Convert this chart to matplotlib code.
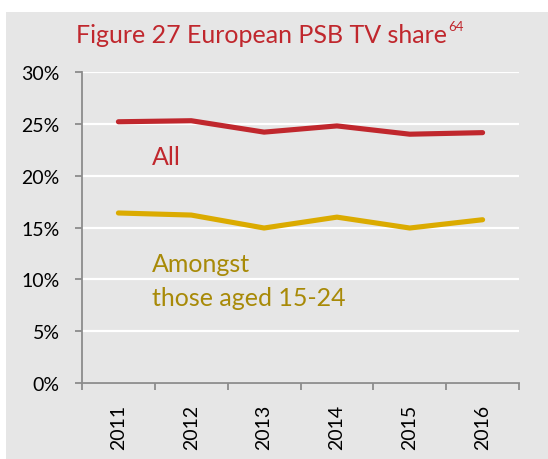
import matplotlib
matplotlib.use('Agg')
import matplotlib.pyplot as plt
from matplotlib.patches import Rectangle
import numpy as np

# chart data
years = ['2011', '2012', '2013', '2014', '2015', '2016']
share_all = [25.2, 25.3, 24.2, 24.8, 24.0, 24.15]
share_young = [16.4, 16.2, 14.95, 16.0, 14.95, 15.75]
yticks = [0, 5, 10, 15, 20, 25, 30]

red = '#c0272d'
gold = '#dbab00'
gold_text = '#a88a08'
bg = '#e6e6e6'
axis_grey = '#8c8c8c'

plt.rcParams['font.family'] = ['Lato', 'DejaVu Sans']

W, H = 548, 460
fig = plt.figure(figsize=(W / 100, H / 100), dpi=100)
fig.patch.set_facecolor('white')
# grey panel behind the chart (white strip at top and left)
panel = Rectangle((6 / W, 0), 1 - 6 / W, (H - 13) / H,
                  transform=fig.transFigure, facecolor=bg,
                  edgecolor='none', zorder=-5)
fig.add_artist(panel)

ax = fig.add_axes([82 / W, (H - 384) / H, (519 - 82) / W, (384 - 73) / H])
ax.set_facecolor(bg)
ax.patch.set_alpha(0)

x = np.arange(len(years))
ax.plot(x, share_all, color=red, lw=3.7, solid_capstyle='round', solid_joinstyle='round', zorder=3)
ax.plot(x, share_young, color=gold, lw=3.7, solid_capstyle='round', solid_joinstyle='round', zorder=3)

ax.set_xlim(-0.5, len(years) - 0.5)
ax.set_ylim(0, 30)
ax.set_yticks(yticks)
ax.set_yticklabels(['{}%'.format(v) for v in yticks])
ax.yaxis.grid(True, color='white', lw=1.6, zorder=1)
ax.set_axisbelow(True)

ax.set_xticks(x)
ax.set_xticklabels(years, rotation=90)
ax.set_xticks(np.arange(-0.5, len(years)), minor=True)
ax.tick_params(axis='x', which='major', length=0, pad=15, labelsize=14)
ax.tick_params(axis='x', which='minor', length=5, width=1.3, color=axis_grey)
ax.tick_params(axis='y', length=5, width=1.3, color=axis_grey, pad=11, labelsize=14)

for s in ['top', 'right']:
    ax.spines[s].set_visible(False)
for s in ['left', 'bottom']:
    ax.spines[s].set_color(axis_grey)
    ax.spines[s].set_linewidth(1.3)

# series labels
ax.text(0.46, 21.1, 'All', color=red, fontsize=18, va='baseline', ha='left')
ax.text(0.46, 10.8, 'Amongst', color=gold_text, fontsize=18, va='baseline', ha='left')
ax.text(0.46, 7.5, 'those aged 15-24', color=gold_text, fontsize=18, va='baseline', ha='left')

# title with superscript footnote
fig.text(447 / W, (H - 43) / H, 'Figure 27 European PSB TV share', color=red,
         fontsize=18, ha='right', va='baseline')
fig.text(448 / W, (H - 31) / H, '64', color=red, fontsize=9.5, ha='left', va='baseline')

fig.savefig('out.png', dpi=100)
